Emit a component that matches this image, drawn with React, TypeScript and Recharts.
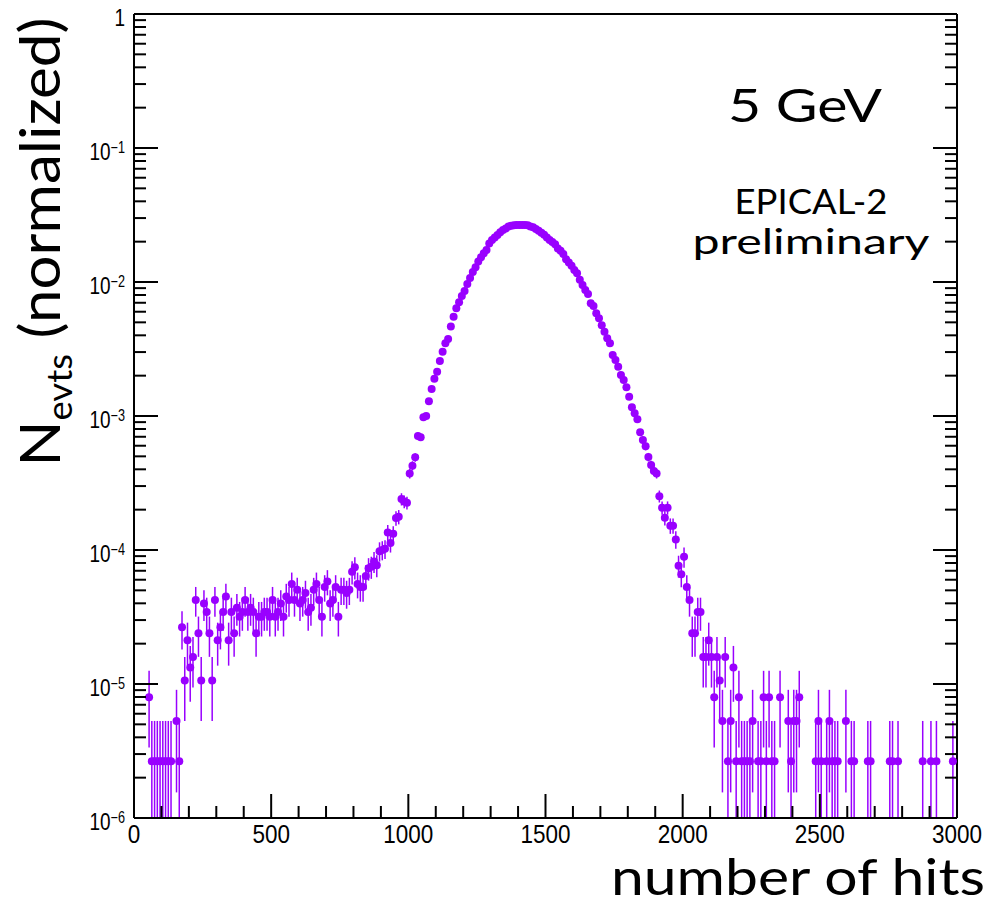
import React from "react";
import { ScatterChart, Scatter, XAxis, YAxis, ErrorBar } from "recharts";

// histogram of hit multiplicity, 10-hit bins, normalized to unit area
const BIN_WIDTH = 10;
const PER_EVENT = 2.65e-6; // weight of one event after normalization

// bins 0-99 (0-1000 hits)
const showerOnset: (number | null)[] = [
  null, null, null, null, null, 7.95e-6, 2.65e-6, 2.65e-6, 2.65e-6, 2.65e-6,
  2.65e-6, 2.65e-6, 2.65e-6, 2.65e-6, null, 5.3e-6, 2.65e-6, 2.65e-5, 1.06e-5, 2.12e-5,
  1.33e-5, 1.59e-5, 4.24e-5, 2.39e-5, 1.06e-5, 3.98e-5, 3.45e-5, 2.39e-5, 1.06e-5, 4.24e-5,
  2.12e-5, 2.65e-5, 3.45e-5, 4.5e-5, 2.12e-5, 3.45e-5, 2.39e-5, 3.71e-5, 3.18e-5, 3.45e-5,
  4.24e-5, 3.45e-5, 3.71e-5, 3.45e-5, 2.39e-5, 3.18e-5, 3.18e-5, 3.45e-5, 3.45e-5, 3.18e-5,
  4.24e-5, 3.18e-5, 3.45e-5, 3.98e-5, 3.18e-5, 4.5e-5, 4.24e-5, 5.57e-5, 4.24e-5, 5.04e-5,
  3.98e-5, 4.24e-5, 4.77e-5, 3.45e-5, 3.71e-5, 5.04e-5, 5.57e-5, 4.24e-5, 3.18e-5, 5.3e-5,
  5.83e-5, 3.98e-5, 4.24e-5, 5.3e-5, 3.18e-5, 5.04e-5, 5.04e-5, 4.77e-5, 5.04e-5, 6.89e-5,
  7.42e-5, 5.57e-5, 5.3e-5, 5.3e-5, 6.4e-5, 7.3e-5, 7.5e-5, 8.2e-5, 7.7e-5, 9.8e-5,
  1.0e-4, 1.02e-4, 1.35e-4, 1.13e-4, 1.32e-4, 1.73e-4, 1.77e-4, 2.4e-4, 2.3e-4, 2.25e-4,
];

// bins 100-199 (1000-2000 hits)
const showerCore: (number | null)[] = [
  3.73e-4, 4.26e-4, 4.92e-4, 7.1e-4, 6.95e-4, 9.8e-4, 1.0e-3, 1.29e-3, 1.59e-3, 1.9e-3,
  2.14e-3, 2.57e-3, 3.02e-3, 3.49e-3, 3.76e-3, 4.65e-3, 5.51e-3, 6.37e-3, 7.05e-3, 7.86e-3,
  8.57e-3, 9.66e-3, 1.07e-2, 1.19e-2, 1.29e-2, 1.42e-2, 1.53e-2, 1.64e-2, 1.73e-2, 1.94e-2,
  2.06e-2, 2.15e-2, 2.24e-2, 2.35e-2, 2.44e-2, 2.51e-2, 2.59e-2, 2.63e-2, 2.65e-2, 2.66e-2,
  2.66e-2, 2.66e-2, 2.66e-2, 2.65e-2, 2.6e-2, 2.56e-2, 2.49e-2, 2.41e-2, 2.33e-2, 2.25e-2,
  2.15e-2, 2.06e-2, 1.99e-2, 1.91e-2, 1.78e-2, 1.71e-2, 1.62e-2, 1.48e-2, 1.4e-2, 1.32e-2,
  1.23e-2, 1.16e-2, 1.04e-2, 9.5e-3, 8.72e-3, 8.14e-3, 6.93e-3, 6.62e-3, 5.84e-3, 5.36e-3,
  4.75e-3, 4.26e-3, 3.8e-3, 3.49e-3, 2.85e-3, 2.62e-3, 2.33e-3, 2.02e-3, 1.86e-3, 1.64e-3,
  1.39e-3, 1.16e-3, 1.05e-3, 9.45e-4, 7.55e-4, 6.62e-4, 5.94e-4, 4.94e-4, 4.3e-4, 3.89e-4,
  3.73e-4, 2.52e-4, 2.07e-4, 1.74e-4, 2.07e-4, 1.52e-4, 1.52e-4, 1.2e-4, 7.64e-5, 6.59e-5,
];

// bins 200-299 (2000-3000 hits)
const upperTail: (number | null)[] = [
  8.9e-5, 5.3e-5, 4.24e-5, 2.39e-5, 2.39e-5, 3.45e-5, 3.45e-5, 1.59e-5, 1.59e-5, 2.12e-5,
  1.59e-5, 7.95e-6, 1.59e-5, 1.06e-5, 5.3e-6, 1.59e-5, 2.65e-6, 5.3e-6, 1.33e-5, 2.65e-6,
  7.95e-6, 2.65e-6, 2.65e-6, 2.65e-6, 2.65e-6, 5.3e-6, null, 2.65e-6, 2.65e-6, 7.95e-6,
  2.65e-6, 7.95e-6, 2.65e-6, 2.65e-6, null, 7.95e-6, null, null, 5.3e-6, 2.65e-6,
  5.3e-6, 5.3e-6, 7.95e-6, null, null, null, null, null, 2.65e-6, 5.3e-6,
  2.65e-6, null, 2.65e-6, 5.3e-6, 2.65e-6, 2.65e-6, 2.65e-6, null, null, 5.3e-6,
  null, 2.65e-6, 2.65e-6, null, null, null, null, 2.65e-6, 2.65e-6, null,
  null, null, null, null, null, 2.65e-6, 2.65e-6, null, 2.65e-6, null,
  null, null, null, null, null, null, null, 2.65e-6, null, null,
  2.65e-6, null, 2.65e-6, null, null, null, null, null, 2.65e-6, null,
];

const xMajorTicks = [0, 500, 1000, 1500, 2000, 2500, 3000];
const yDecades = [1e-6, 1e-5, 1e-4, 1e-3, 1e-2, 1e-1, 1];

const MARKER = "#9900ff";
const AXIS = "#000";
const TICK_FONT = "'Liberation Sans', Arial, Helvetica, sans-serif";
const TEXT_FONT = "Lato, 'Open Sans', sans-serif";
const Y_MIN = 1e-6;

const xTicks: number[] = [];
for (let h = 0; h <= 3000; h += 100) xTicks.push(h);

const yTicks: number[] = [];
yDecades.slice(0, -1).forEach((d) => {
  for (let m = 1; m <= 9; m++) yTicks.push(d * m);
});
yTicks.push(1);

const isDecade = (v: number) =>
  yDecades.some((d) => Math.abs(v - d) / d < 1e-9);

// one point per non-empty bin, poisson errors
const points = [...showerOnset, ...showerCore, ...upperTail]
  .map((v, i) => {
    if (v == null) return null;
    const e = Math.sqrt(v * PER_EVENT);
    return {
      hits: i * BIN_WIDTH + BIN_WIDTH / 2,
      value: v,
      err: [Math.min(e, v - Y_MIN), e],
    };
  })
  .filter(Boolean) as { hits: number; value: number; err: number[] }[];

const BottomTick = ({ x, y, payload }: any) => {
  const major = xMajorTicks.includes(payload.value);
  return (
    <g>
      <line x1={x} y1={y} x2={x} y2={y - (major ? 24 : 12)} stroke={AXIS} strokeWidth={2} />
      {major && (
        <text
          transform={`translate(${x},${y + 25}) scale(0.9,1)`}
          textAnchor="middle"
          fontFamily={TICK_FONT}
          fontSize={25}
          fill="#000"
        >
          {payload.value}
        </text>
      )}
    </g>
  );
};

const LeftTick = ({ x, y, payload }: any) => {
  const v = payload.value;
  const major = isDecade(v);
  const exp = Math.round(Math.log10(v));
  return (
    <g>
      <line x1={x} y1={y} x2={x + (major ? 24 : 12)} y2={y} stroke={AXIS} strokeWidth={2} />
      {major && (
        <text
          transform={`translate(${x - 9},${y + 12}) scale(0.79,1)`}
          textAnchor="end"
          fontFamily={TICK_FONT}
          fontSize={24}
          fill="#000"
        >
          {exp === 0 ? (
            "1"
          ) : (
            <>
              10
              <tspan dy={-7} fontSize={16}>
                {"\u2212" + -exp}
              </tspan>
            </>
          )}
        </text>
      )}
    </g>
  );
};

const RightTick = ({ x, y, payload }: any) => {
  const major = isDecade(payload.value);
  return <line x1={x} y1={y} x2={x - (major ? 24 : 12)} y2={y} stroke={AXIS} strokeWidth={2} />;
};

const Marker = (p: any) => <circle cx={p.cx} cy={p.cy} r={4} fill={MARKER} />;

export default function App() {
  return (
    <div style={{ position: "absolute", left: 0, top: 0, width: 991, height: 906, background: "#fff" }}>
      <ScatterChart width={991} height={906} margin={{ top: 4, right: 24, bottom: 48, left: 74 }}>
        <XAxis
          type="number"
          dataKey="hits"
          domain={[0, 3000]}
          ticks={xTicks}
          interval={0}
          tickSize={0}
          tickMargin={0}
          tickLine={false}
          tick={BottomTick}
          height={40}
          axisLine={{ stroke: AXIS, strokeWidth: 2 }}
          allowDataOverflow
        />
        <XAxis
          xAxisId="top"
          orientation="top"
          type="number"
          dataKey="hits"
          domain={[0, 3000]}
          tick={false}
          tickLine={false}
          height={10}
          axisLine={{ stroke: AXIS, strokeWidth: 2 }}
          allowDataOverflow
        />
        <YAxis
          type="number"
          dataKey="value"
          scale="log"
          domain={[Y_MIN, 1]}
          ticks={yTicks}
          interval={0}
          tickSize={0}
          tickMargin={0}
          tickLine={false}
          tick={LeftTick}
          width={60}
          axisLine={{ stroke: AXIS, strokeWidth: 2 }}
          allowDataOverflow
        />
        <YAxis
          yAxisId="right"
          orientation="right"
          type="number"
          scale="log"
          domain={[Y_MIN, 1]}
          ticks={yTicks}
          interval={0}
          tickSize={0}
          tickMargin={0}
          tickLine={false}
          tick={RightTick}
          width={10}
          axisLine={{ stroke: AXIS, strokeWidth: 2 }}
          allowDataOverflow
        />
        <Scatter data={points} dataKey="value" fill={MARKER} shape={Marker} isAnimationActive={false}>
          <ErrorBar dataKey="err" direction="y" width={0} stroke={MARKER} strokeWidth={1.5} />
        </Scatter>
      </ScatterChart>

      <svg
        width={991}
        height={906}
        style={{ position: "absolute", left: 0, top: 0, pointerEvents: "none" }}
      >
        <text
          transform="translate(60,242) rotate(-90)"
          textAnchor="middle"
          fontFamily={TEXT_FONT}
          fontSize={56}
          textLength={449}
          lengthAdjust="spacingAndGlyphs"
          fill="#000"
        >
          N
          <tspan fontSize={34} dy={12}>
            evts
          </tspan>
          <tspan dy={-12}> (normalized)</tspan>
        </text>
        <text
          x={985}
          y={895}
          textAnchor="end"
          fontFamily={TEXT_FONT}
          fontSize={50}
          textLength={374}
          lengthAdjust="spacingAndGlyphs"
          fill="#000"
        >
          number of hits
        </text>
        <text
          x={805}
          y={122}
          textAnchor="middle"
          fontFamily={TEXT_FONT}
          fontSize={47}
          textLength={154}
          lengthAdjust="spacingAndGlyphs"
          fill="#000"
        >
          5 GeV
        </text>
        <text
          x={811}
          y={214}
          textAnchor="middle"
          fontFamily={TEXT_FONT}
          fontSize={35}
          textLength={153}
          lengthAdjust="spacingAndGlyphs"
          fill="#000"
        >
          EPICAL-2
        </text>
        <text
          x={811}
          y={254}
          textAnchor="middle"
          fontFamily={TEXT_FONT}
          fontSize={35}
          textLength={237}
          lengthAdjust="spacingAndGlyphs"
          fill="#000"
        >
          preliminary
        </text>
      </svg>
    </div>
  );
}
